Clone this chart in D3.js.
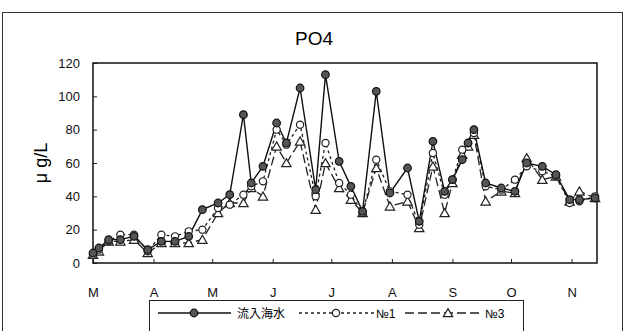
<!DOCTYPE html>
<html>
<head>
<meta charset="utf-8">
<script src="https://cdn.jsdelivr.net/npm/d3@7"></script>
<style>
  body { margin: 0; background: #fff; }
  svg { display: block; font-family: Arial, "Liberation Sans", sans-serif; }
</style>
</head>
<body>
<svg id="chart" width="624" height="331"></svg>
<script>
// sample dates (one season)
const dates = ["03-01","03-04","03-09","03-15","03-22","03-29","04-05","04-12","04-19","04-26",
  "05-04","05-10","05-17","05-21","05-27","06-03","06-08","06-15","06-23","06-28",
  "07-05","07-11","07-17","07-24","07-31","08-09","08-15","08-22","08-28","09-01",
  "09-06","09-09","09-12","09-18","09-26","10-03","10-09","10-17","10-24","10-31",
  "11-05","11-13"];

// 流入海水
const inflow = [6, 9, 14, 14, 16, 8, 13, 13, 16, 32,
  36, 41, 89, 48, 58, 84, 72, 105, 44, 113,
  61, 46, 31, 103, 42, 57, 25, 73, 43, 50,
  62, 72, 80, 48, 45, 43, 60, 58, 53, 38,
  38, 39];
// No.1
const no1 = [5, 8, 13, 17, 17, 7, 17, 16, 19, 20,
  33, 35, 41, 46, 49, 80, 71, 83, 40, 72,
  48, 41, 30, 62, 43, 41, 23, 66, 41, 50,
  68, 72, 78, 46, 44, 50, 58, 55, 52, 36,
  37, 40];
// No.3
const no3 = [5, 7, 13, 13, 14, 6, 12, 12, 12, 14,
  30, 36, 36, 45, 40, 70, 60, 73, 32, 60,
  45, 38, 30, 57, 34, 37, 21, 58, 30, 48,
  65, 70, 77, 37, 43, 42, 63, 50, 52, 37,
  43, 39];

const monthLabels = ["M", "A", "M", "J", "J", "A", "S", "O", "N"];
const yTicks = [0, 20, 40, 60, 80, 100, 120];
const seriesNames = ["流入海水", "№1", "№3"];

const parse = d3.timeParse("%Y-%m-%d");
const yr = "2001-";
const svg = d3.select("#chart");

const plotLeft = 93, plotRight = 597, plotTop = 63, plotBottom = 263;

const x = d3.scaleTime()
  .domain([parse(yr + "03-01"), parse(yr + "11-14")])
  .range([plotLeft, plotRight]);

const y = d3.scaleLinear()
  .domain([0, 120])
  .range([plotBottom, plotTop]);

// outer frame
svg.append("rect")
  .attr("x", 2.5).attr("y", 12.5)
  .attr("width", 620).attr("height", 340)
  .attr("fill", "none").attr("stroke", "#333").attr("stroke-width", 1);

// title
svg.append("text")
  .attr("x", 314).attr("y", 45)
  .attr("text-anchor", "middle")
  .attr("font-size", 19)
  .text("PO4");

// y title
svg.append("text")
  .attr("transform", "translate(47,163) rotate(-90)")
  .attr("text-anchor", "middle")
  .attr("font-size", 18)
  .text("μ g/L");

// axes
const monthTicks = d3.range(3, 12).map(m => parse(yr + String(m).padStart(2, "0") + "-01"));

svg.append("g")
  .attr("transform", "translate(0," + plotBottom + ")")
  .call(d3.axisBottom(x)
    .tickValues(monthTicks)
    .tickSize(-4)
    .tickPadding(25)
    .tickFormat((d, i) => monthLabels[i]));

svg.append("g")
  .attr("transform", "translate(" + plotLeft + ",0)")
  .call(d3.axisLeft(y)
    .tickValues(yTicks)
    .tickSize(-4)
    .tickPadding(13));

svg.selectAll(".domain").remove();
svg.selectAll(".tick text").attr("font-size", 13).attr("fill", "#111");
svg.selectAll(".tick line").attr("stroke", "#222");

// plot frame
svg.append("rect")
  .attr("x", plotLeft).attr("y", plotTop)
  .attr("width", plotRight - plotLeft).attr("height", plotBottom - plotTop)
  .attr("fill", "none").attr("stroke", "#111").attr("stroke-width", 1.5);

const line = d3.line()
  .x((d, i) => x(parse(yr + dates[i])))
  .y(d => y(d));

const tri = d3.symbol().type(d3.symbolTriangle).size(38);

// No.3 - long dash, triangles
svg.append("path")
  .datum(no3)
  .attr("fill", "none")
  .attr("stroke", "#222")
  .attr("stroke-width", 1.3)
  .attr("stroke-dasharray", "9,4")
  .attr("d", line);

// No.1 - short dash, open circles
svg.append("path")
  .datum(no1)
  .attr("fill", "none")
  .attr("stroke", "#222")
  .attr("stroke-width", 1.3)
  .attr("stroke-dasharray", "3,3")
  .attr("d", line);

// 流入海水 - solid line
svg.append("path")
  .datum(inflow)
  .attr("fill", "none")
  .attr("stroke", "#111")
  .attr("stroke-width", 1.4)
  .attr("d", line);

svg.selectAll(".no3Point")
  .data(no3)
  .enter()
  .append("path")
  .attr("d", tri)
  .attr("transform", (d, i) => "translate(" + x(parse(yr + dates[i])) + "," + (y(d) + 1) + ")")
  .attr("fill", "#fff")
  .attr("stroke", "#222")
  .attr("stroke-width", 1.2);

svg.selectAll(".no1Point")
  .data(no1)
  .enter()
  .append("circle")
  .attr("cx", (d, i) => x(parse(yr + dates[i])))
  .attr("cy", d => y(d))
  .attr("r", 3.6)
  .attr("fill", "#fff")
  .attr("stroke", "#222")
  .attr("stroke-width", 1.2);

svg.selectAll(".inflowPoint")
  .data(inflow)
  .enter()
  .append("circle")
  .attr("cx", (d, i) => x(parse(yr + dates[i])))
  .attr("cy", d => y(d))
  .attr("r", 3.8)
  .attr("fill", "#555")
  .attr("stroke", "#111")
  .attr("stroke-width", 1.2);

// legend
const ly = 313;
svg.append("rect")
  .attr("x", 149.5).attr("y", 300.5)
  .attr("width", 374).attr("height", 40)
  .attr("fill", "#fff").attr("stroke", "#222").attr("stroke-width", 1);

const leg = svg.append("g");

leg.append("line").attr("x1", 158).attr("x2", 231).attr("y1", ly).attr("y2", ly)
  .attr("stroke", "#111").attr("stroke-width", 1.4);
leg.append("circle").attr("cx", 194).attr("cy", ly).attr("r", 3.8)
  .attr("fill", "#555").attr("stroke", "#111").attr("stroke-width", 1.2);
leg.append("text").attr("x", 237).attr("y", ly + 5).attr("font-size", 12)
  .attr("font-family", "'Noto Sans CJK JP', sans-serif").text(seriesNames[0]);

leg.append("line").attr("x1", 299).attr("x2", 374).attr("y1", ly).attr("y2", ly)
  .attr("stroke", "#222").attr("stroke-width", 1.3).attr("stroke-dasharray", "3,3");
leg.append("circle").attr("cx", 336).attr("cy", ly).attr("r", 3.6)
  .attr("fill", "#fff").attr("stroke", "#222").attr("stroke-width", 1.2);
leg.append("text").attr("x", 376).attr("y", ly + 5).attr("font-size", 12).text(seriesNames[1]);

leg.append("line").attr("x1", 405).attr("x2", 481).attr("y1", ly).attr("y2", ly)
  .attr("stroke", "#222").attr("stroke-width", 1.3).attr("stroke-dasharray", "9,4");
leg.append("path").attr("d", tri).attr("transform", "translate(448," + (ly + 1) + ")")
  .attr("fill", "#fff").attr("stroke", "#222").attr("stroke-width", 1.2);
leg.append("text").attr("x", 485).attr("y", ly + 5).attr("font-size", 12).text(seriesNames[2]);
</script>
</body>
</html>
